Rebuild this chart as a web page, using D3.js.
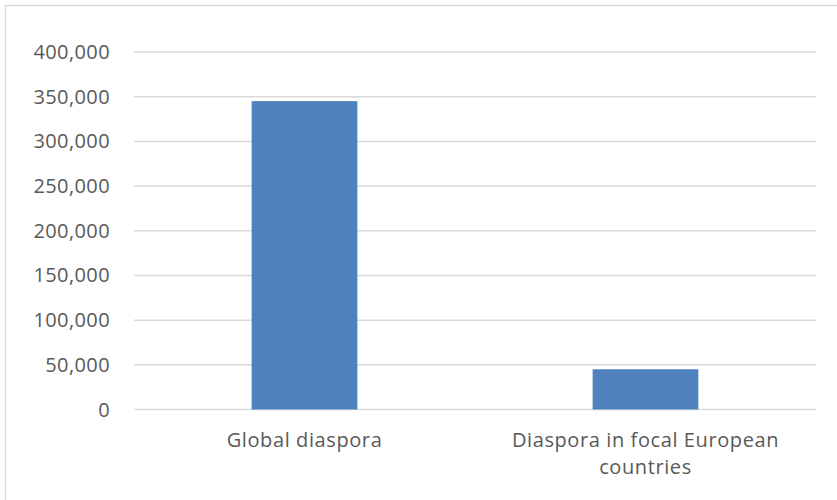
<!DOCTYPE html>
<html lang="en">
<head>
    <meta charset="UTF-8">
    <title>Diaspora</title>
    <script src="https://d3js.org/d3.v7.min.js"></script>
    <style>
        body { margin: 0; background: #fff; }
        text { font-family: "Open Sans", sans-serif; fill: #595959; }
        .grid line { stroke: #d9d9d9; stroke-width: 1.5px; }
    </style>
</head>
<body>
<svg width="837" height="500"></svg>
<script>
    const categories = [["Global diaspora"], ["Diaspora in focal European", "countries"]];
    const values = [345000, 45000];
    const yTicks = [0, 50000, 100000, 150000, 200000, 250000, 300000, 350000, 400000];

    const width = 837, height = 500;
    const svg = d3.select("svg");

    // outer chart frame, cut off at the right and bottom edges
    svg.append("rect")
        .attr("x", 5.5).attr("y", 5.5)
        .attr("width", 850).attr("height", 520)
        .attr("fill", "none")
        .attr("stroke", "#d9d9d9")
        .attr("stroke-width", 1.5);

    const x = d3.scaleBand()
        .domain(d3.range(values.length))
        .range([134, 816])
        .paddingInner(0.69)
        .paddingOuter(0.345);

    const y = d3.scaleLinear()
        .domain([0, 400000])
        .range([409.5, 52]);

    const grid = svg.append("g").attr("class", "grid");
    grid.selectAll("line")
        .data(yTicks)
        .enter().append("line")
        .attr("x1", 134).attr("x2", 816)
        .attr("y1", d => y(d)).attr("y2", d => y(d));

    svg.append("g").selectAll("text")
        .data(yTicks)
        .enter().append("text")
        .attr("x", 110)
        .attr("y", d => y(d))
        .attr("dy", "0.35em")
        .attr("text-anchor", "end")
        .style("font-size", "20px")
        .style("letter-spacing", "0.4px")
        .text(d => d3.format(",")(d));

    svg.append("g").selectAll("rect")
        .data(values)
        .enter().append("rect")
        .attr("x", (d, i) => x(i))
        .attr("width", x.bandwidth())
        .attr("y", d => y(d))
        .attr("height", d => y(0) - y(d))
        .attr("fill", "#4f81bd");

    const labels = svg.append("g").selectAll("text")
        .data(categories)
        .enter().append("text")
        .attr("text-anchor", "middle")
        .style("font-size", "20px")
        .style("letter-spacing", "0.6px")
        .attr("transform", (d, i) => "translate(" + (x(i) + x.bandwidth() / 2) + ",447)");

    labels.selectAll("tspan")
        .data(d => d)
        .enter().append("tspan")
        .attr("x", 0)
        .attr("y", (d, i) => i * 27)
        .text(d => d);
</script>
</body>
</html>
